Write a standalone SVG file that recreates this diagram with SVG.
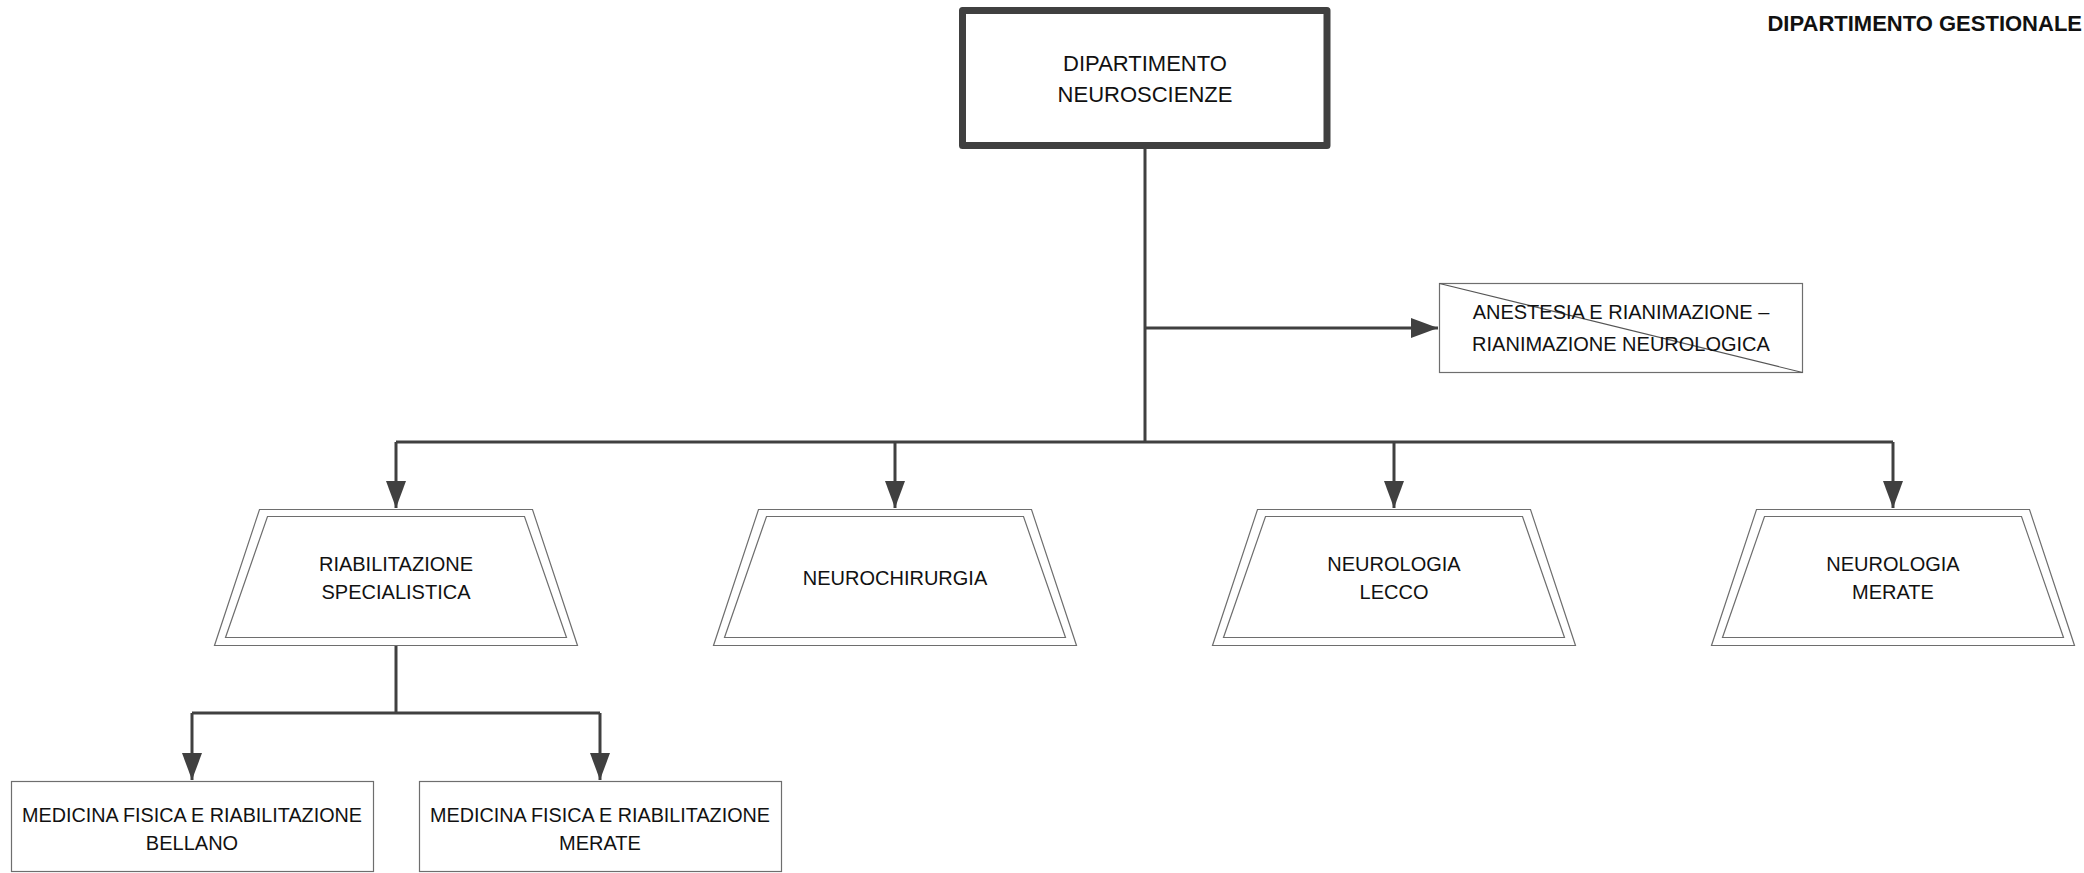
<svg xmlns="http://www.w3.org/2000/svg" width="2084" height="873" viewBox="0 0 2084 873">
<style>
text{font-family:"Liberation Sans",Arial,sans-serif;font-size:20px;fill:#111;text-anchor:middle}
.title{font-weight:bold;text-anchor:end;font-size:22px}
.big{font-size:22px}
.box{fill:#fff;stroke:#6e6e6e;stroke-width:1.2}
.main{fill:#fff;stroke:#404040;stroke-width:7;stroke-linejoin:round}
.trap{fill:#fff;stroke:#6e6e6e;stroke-width:1.2}
.conn{fill:none;stroke:#404040;stroke-width:3}
</style>
<defs>
<marker id="arr" markerUnits="userSpaceOnUse" markerWidth="28" markerHeight="20" refX="27" refY="10" orient="auto">
<path d="M0,0 L27,10 L0,20 Z" fill="#404040"/>
</marker>
</defs>
<rect width="2084" height="873" fill="#fff"/>
<text class="title" x="2082" y="31">DIPARTIMENTO GESTIONALE</text>

<g id="connectors">
<path class="conn" d="M1145,149 V442"/>
<path class="conn" d="M1145,328 H1438" marker-end="url(#arr)"/>
<path class="conn" d="M396,442 H1893"/>
<path class="conn" d="M396,442 V508" marker-end="url(#arr)"/>
<path class="conn" d="M895,442 V508" marker-end="url(#arr)"/>
<path class="conn" d="M1394,442 V508" marker-end="url(#arr)"/>
<path class="conn" d="M1893,442 V508" marker-end="url(#arr)"/>
<path class="conn" d="M396,646 V713"/>
<path class="conn" d="M192,713 H600"/>
<path class="conn" d="M192,713 V780" marker-end="url(#arr)"/>
<path class="conn" d="M600,713 V780" marker-end="url(#arr)"/>
</g>

<g id="dip-neuroscienze">
<rect class="main" x="962.5" y="10.5" width="364.5" height="135"/>
<text class="big" x="1145" y="71">DIPARTIMENTO</text>
<text class="big" x="1145" y="102">NEUROSCIENZE</text>
</g>

<g id="anestesia">
<rect class="box" x="1439.5" y="283.5" width="363" height="89"/>
<line x1="1439.5" y1="283.5" x2="1802.5" y2="372.5" stroke="#555" stroke-width="1.2"/>
<text x="1621" y="319">ANESTESIA E RIANIMAZIONE –</text>
<text x="1621" y="351">RIANIMAZIONE NEUROLOGICA</text>
</g>

<g id="riabilitazione">
<path class="trap" d="M259.5,509.5 H532.5 L577.5,645.5 H214.5 Z"/>
<path class="trap" d="M267.5,516.5 H524.5 L566.5,637.5 H225.5 Z"/>
<text x="396" y="571">RIABILITAZIONE</text>
<text x="396" y="599">SPECIALISTICA</text>
</g>

<g id="neurochirurgia">
<path class="trap" d="M758.5,509.5 H1031.5 L1076.5,645.5 H713.5 Z"/>
<path class="trap" d="M766.5,516.5 H1023.5 L1065.5,637.5 H724.5 Z"/>
<text x="895" y="585">NEUROCHIRURGIA</text>
</g>

<g id="neurologia-lecco">
<path class="trap" d="M1257.5,509.5 H1530.5 L1575.5,645.5 H1212.5 Z"/>
<path class="trap" d="M1265.5,516.5 H1522.5 L1564.5,637.5 H1223.5 Z"/>
<text x="1394" y="571">NEUROLOGIA</text>
<text x="1394" y="599">LECCO</text>
</g>

<g id="neurologia-merate">
<path class="trap" d="M1756.5,509.5 H2029.5 L2074.5,645.5 H1711.5 Z"/>
<path class="trap" d="M1764.5,516.5 H2021.5 L2063.5,637.5 H1722.5 Z"/>
<text x="1893" y="571">NEUROLOGIA</text>
<text x="1893" y="599">MERATE</text>
</g>

<g id="mfr-bellano">
<rect class="box" x="11.5" y="781.5" width="362" height="90"/>
<text x="192" y="822" textLength="340" lengthAdjust="spacingAndGlyphs">MEDICINA FISICA E RIABILITAZIONE</text>
<text x="192" y="850">BELLANO</text>
</g>

<g id="mfr-merate">
<rect class="box" x="419.5" y="781.5" width="362" height="90"/>
<text x="600" y="822" textLength="340" lengthAdjust="spacingAndGlyphs">MEDICINA FISICA E RIABILITAZIONE</text>
<text x="600" y="850">MERATE</text>
</g>
</svg>
